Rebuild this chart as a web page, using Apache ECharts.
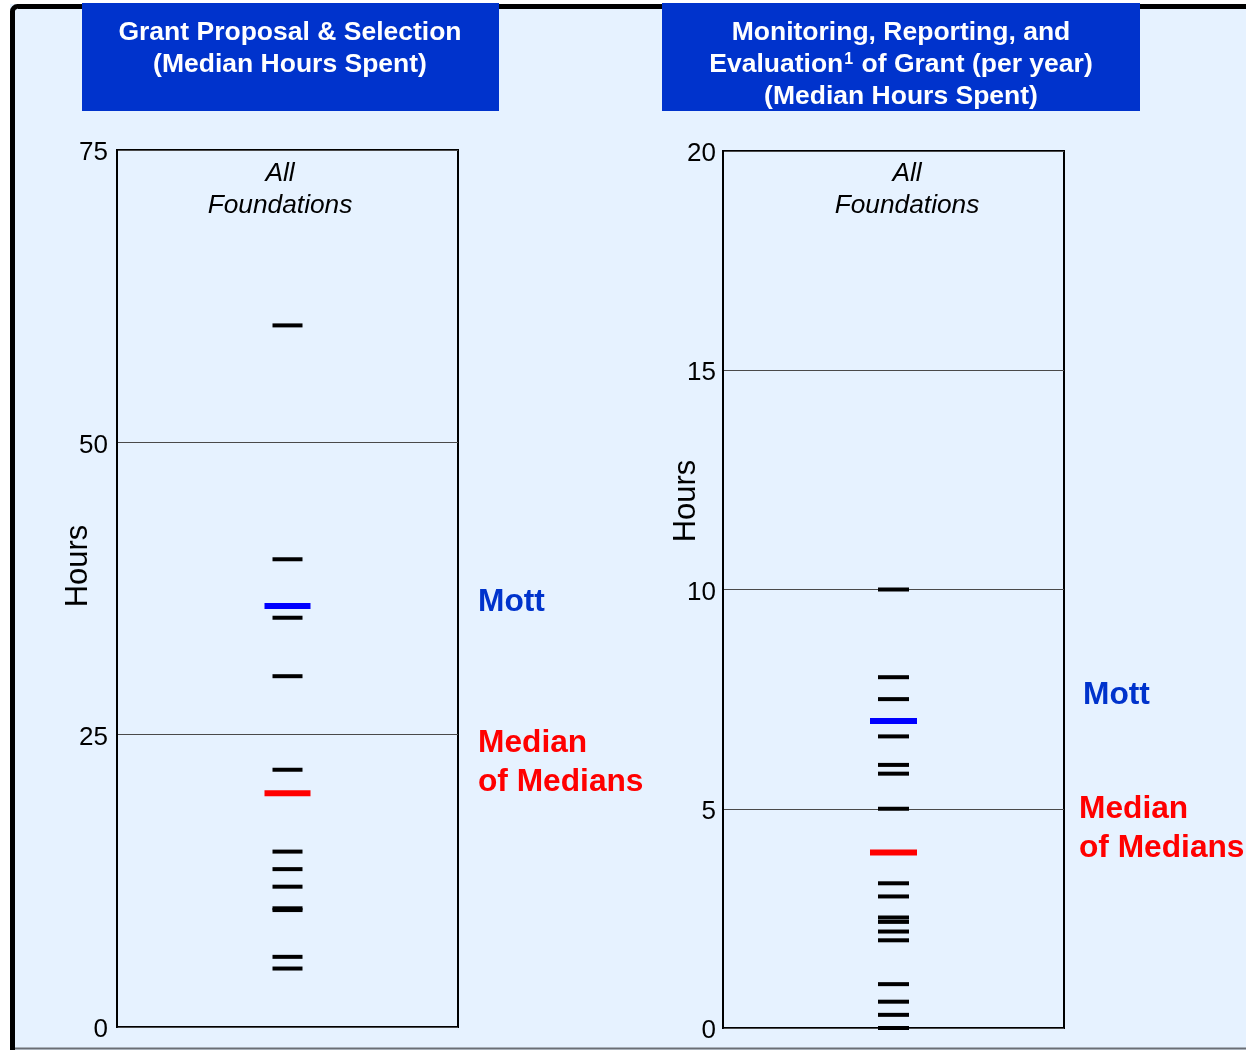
<!DOCTYPE html>
<html>
<head>
<meta charset="utf-8">
<script src="https://cdn.jsdelivr.net/npm/echarts@6/dist/echarts.min.js"></script>
<style>
html,body{margin:0;padding:0;background:#ffffff;}
#chart{width:1246px;height:1050px;}
</style>
</head>
<body>
<div id="chart"></div>
<script>
// ---- Data ----
var leftTitle = ['Grant Proposal & Selection', '(Median Hours Spent)'];
var rightTitle = ['Monitoring, Reporting, and', '{b|Evaluation}{s|1}{b| of Grant (per year)}', '(Median Hours Spent)'];
var groupLabel = ['All', 'Foundations'];
var axisTitle = 'Hours';

var leftFoundations = [60, 40, 35, 30, 22, 15, 13.5, 12, 10, 10.15, 6, 5];
var leftMott = 36;
var leftMedian = 20;
var leftTicks = {min: 0, max: 75, interval: 25};

var rightFoundations = [10, 8, 7.5, 6.65, 6, 5.8, 5, 3.3, 3, 2.52, 2.42, 2.2, 2, 1, 0.6, 0.3, 0];
var rightMott = 7;
var rightMedian = 4;
var rightTicks = {min: 0, max: 20, interval: 5};

// ---- Styles ----
var FONT = '"Liberation Sans", Arial, sans-serif';
var BG = '#e6f2ff';
var HEAD = '#0033cc';

function yAxisFor(t, idx, margin) {
  return {
    type: 'value', gridIndex: idx, min: t.min, max: t.max, interval: t.interval,
    axisLine: {show: true, lineStyle: {color: '#000', width: 2}},
    axisTick: {show: false},
    axisLabel: {
      color: '#000', fontSize: 26, fontFamily: FONT, margin: margin,
      formatter: '{t|{value}}',
      rich: {t: {color: '#000', fontSize: 26, fontFamily: FONT, padding: [6, 0, 0, 0]}}
    },
    splitLine: {show: true, lineStyle: {color: '#4a4a4a', width: 1}}
  };
}
function xAxisFor(idx) {
  return {type: 'value', gridIndex: idx, min: 0, max: 1, show: false, splitLine: {show: false}};
}
function pts(arr) { return arr.map(function (v) { return [0.5, v]; }); }
function marks(idx, arr, color, size, z) {
  return {
    type: 'scatter', xAxisIndex: idx, yAxisIndex: idx, data: pts(arr),
    symbol: 'rect', symbolSize: size, z: z,
    itemStyle: {color: color, opacity: 1}, silent: true, animation: false
  };
}
function txt(text, x, y, opts) {
  var o = opts || {};
  var st = {
    text: text, fill: o.fill || '#000',
    font: (o.style || 'normal') + ' ' + (o.weight || 'normal') + ' ' + (o.size || 26) + 'px ' + FONT,
    textAlign: o.align || 'center', align: o.align || 'center',
    textVerticalAlign: 'middle', verticalAlign: 'middle'
  };
  if (o.rich) st.rich = o.rich;
  return {type: 'text', x: x, y: y, rotation: o.rotation || 0, z: 50, style: st};
}

var graphics = [
  {type: 'rect', shape: {x: 0, y: 0, width: 10, height: 1050}, style: {fill: '#fff'}, z: 1},
  {type: 'rect', shape: {x: 0, y: 0, width: 1246, height: 4}, style: {fill: '#fff'}, z: 1},
  {type: 'rect', shape: {x: 12.5, y: 6.5, width: 1260, height: 1070, r: 5},
   style: {fill: 'none', stroke: '#000', lineWidth: 5}, z: 2},
  {type: 'line', shape: {x1: 15, y1: 1048.5, x2: 1246, y2: 1048.5},
   style: {stroke: '#6a6e75', lineWidth: 2}, z: 2},
  {type: 'rect', shape: {x: 82, y: 3, width: 417, height: 108}, style: {fill: HEAD}, z: 3},
  {type: 'rect', shape: {x: 662, y: 3, width: 478, height: 108}, style: {fill: HEAD}, z: 3}
];
var HFONT = 26.5;
var richHead = {
  b: {fontSize: HFONT, fontWeight: 'bold', fontFamily: FONT, fill: '#fff', color: '#fff'},
  s: {fontSize: 16, fontWeight: 'bold', fontFamily: FONT, fill: '#fff', color: '#fff', verticalAlign: 'top', padding: [0, 1, 0, 1]}
};
leftTitle.forEach(function (s, i) {
  graphics.push(txt(s, 290, 33 + i * 32, {fill: '#fff', weight: 'bold', size: HFONT}));
});
rightTitle.forEach(function (s, i) {
  graphics.push(txt(s, 901, 33 + i * 32, {fill: '#fff', weight: 'bold', size: HFONT, rich: richHead}));
});
groupLabel.forEach(function (s, i) {
  graphics.push(txt(s, 280, 174 + i * 32, {style: 'italic', size: 26.3}));
  graphics.push(txt(s, 907, 174 + i * 32, {style: 'italic', size: 26.3}));
});
graphics.push(txt(axisTitle, 78, 566, {size: 31, rotation: Math.PI / 2}));
graphics.push(txt(axisTitle, 686, 501, {size: 31, rotation: Math.PI / 2}));
var ANN = 31.7;
graphics.push(txt('Mott', 478, 602, {fill: '#0033cc', weight: 'bold', size: ANN, align: 'left'}));
graphics.push(txt('Median', 478, 743, {fill: '#ff0000', weight: 'bold', size: ANN, align: 'left'}));
graphics.push(txt('of Medians', 478, 782, {fill: '#ff0000', weight: 'bold', size: ANN, align: 'left'}));
graphics.push(txt('Mott', 1083, 695, {fill: '#0033cc', weight: 'bold', size: ANN, align: 'left'}));
graphics.push(txt('Median', 1079, 809, {fill: '#ff0000', weight: 'bold', size: ANN, align: 'left'}));
graphics.push(txt('of Medians', 1079, 848, {fill: '#ff0000', weight: 'bold', size: ANN, align: 'left'}));

var chart = echarts.init(document.getElementById('chart'), null, {renderer: 'canvas'});
chart.setOption({
  backgroundColor: BG,
  animation: false,
  grid: [
    {left: 117, top: 150, width: 341, height: 877, show: true, borderColor: '#000', borderWidth: 2, backgroundColor: 'transparent'},
    {left: 723, top: 151, width: 341, height: 877, show: true, borderColor: '#000', borderWidth: 2, backgroundColor: 'transparent'}
  ],
  xAxis: [xAxisFor(0), xAxisFor(1)],
  yAxis: [yAxisFor(leftTicks, 0, 9), yAxisFor(rightTicks, 1, 7)],
  graphic: {elements: graphics},
  series: [
    marks(0, leftFoundations, '#000', [30, 4], 5),
    marks(0, [leftMott], '#0000ff', [46, 6], 6),
    marks(0, [leftMedian], '#ff0000', [46, 6], 6),
    marks(1, rightFoundations, '#000', [31, 4], 5),
    marks(1, [rightMott], '#0000ff', [47, 6], 6),
    marks(1, [rightMedian], '#ff0000', [47, 6], 6)
  ]
});
</script>
</body>
</html>
